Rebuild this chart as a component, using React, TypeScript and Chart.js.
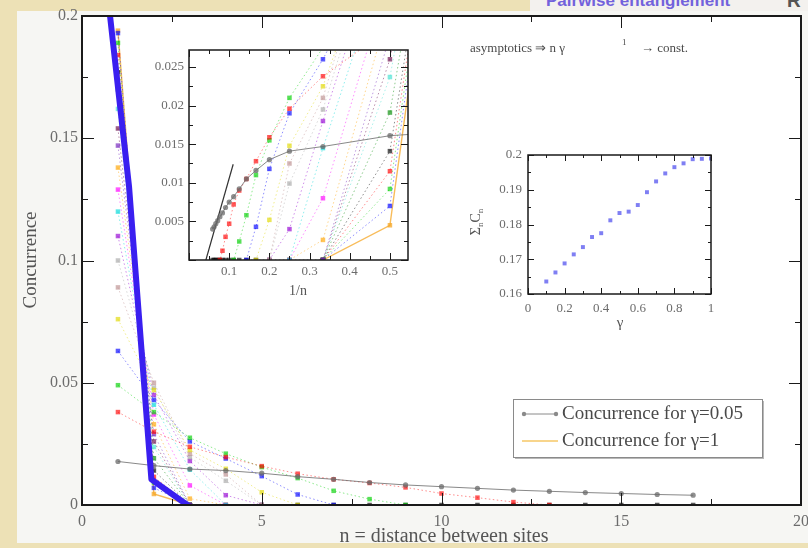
import React, { useEffect, useRef } from 'react';
import { Chart, registerables } from 'chart.js';

Chart.register(...registerables);

const SERIF = '"Liberation Serif", "Times New Roman", serif';

// ---------------- data ----------------
const distances = [1, 2, 3, 4, 5, 6, 7, 8, 9, 10, 11, 12, 13, 14, 15, 16, 17];
const gammaLabels = ['0.05', '0.1', '0.15', '0.2', '0.25', '0.3', '0.35', '0.4', '0.45', '0.5', '0.55', '0.6', '0.65', '0.7', '0.75', '0.8', '0.85', '0.9', '0.95', '1'];

// concurrence C(n) for each gamma, n = 1, 2, 3, ...
const c005 = [0.0178, 0.0161, 0.0147, 0.0141, 0.013, 0.0116, 0.0105, 0.0092, 0.0082, 0.0075, 0.0068, 0.0061, 0.0056, 0.0051, 0.0047, 0.0043, 0.004];
const c010 = [0.038, 0.03, 0.0238, 0.0196, 0.0159, 0.0128, 0.0105, 0.009, 0.0072, 0.0047, 0.003, 0.0012, 0];
const c015 = [0.049, 0.038, 0.0275, 0.021, 0.0155, 0.011, 0.0058, 0.0024, 0];
const c020 = [0.063, 0.043, 0.026, 0.019, 0.0118, 0.0043, 0];
const c025 = [0.076, 0.047, 0.0225, 0.0148, 0.0052, 0];
const c030 = [0.089, 0.05, 0.021, 0.0125, 0];
const c035 = [0.1, 0.048, 0.0195, 0.0099, 0];
const c040 = [0.11, 0.045, 0.018, 0.004, 0];
const c045 = [0.12, 0.041, 0.0145, 0];
const c050 = [0.129, 0.037, 0.008, 0];
const c055 = [0.138, 0.033, 0.0026, 0];
const c060 = [0.147, 0.029, 0];
const c065 = [0.154, 0.026, 0];
const c070 = [0.162, 0.0237, 0];
const c075 = [0.17, 0.0191, 0];
const c080 = [0.177, 0.0141, 0, 0, 0, 0, 0, 0, 0, 0, 0, 0, 0, 0, 0, 0, 0];
const c085 = [0.184, 0.0115, 0];
const c090 = [0.189, 0.0092, 0];
const c095 = [0.193, 0.007, 0];
const c100 = [0.194, 0.0045, 0];
const concurrenceByGamma = [c005, c010, c015, c020, c025, c030, c035, c040, c045, c050, c055, c060, c065, c070, c075, c080, c085, c090, c095, c100];

// thick highlighted guide line
const highlightN = [0.78, 1.31, 1.93, 2.93];
const highlightC = [0.2, 0.13, 0.0105, 0];

// asymptotic fit in the 1/n inset
const fitInvN = [0.042, 0.11];
const fitC = [0, 0.0124];

// sum of concurrences vs gamma
const sumGamma = [0.1, 0.15, 0.2, 0.25, 0.3, 0.35, 0.4, 0.45, 0.5, 0.55, 0.6, 0.65, 0.7, 0.75, 0.8, 0.85, 0.9, 0.95, 1];
const sumConcurrence = [0.1636, 0.1662, 0.1688, 0.1714, 0.1735, 0.1764, 0.1775, 0.1812, 0.1833, 0.1837, 0.1856, 0.1893, 0.1924, 0.1947, 0.1965, 0.1976, 0.1988, 0.1989, 0.199];

// ---------------- styles ----------------
const palette = ['#000000', '#ff0000', '#00d000', '#0000ff', '#e0d800', '#bc8f8f', '#a8a8a8', '#9400d3', '#00d8d8', '#ff00ff', '#ffa500', '#7221bc', '#670748', '#40e0d0', '#008b00'];

function rgba(hex: string, a: number) {
  const h = hex.replace('#', '');
  const r = parseInt(h.slice(0, 2), 16), g = parseInt(h.slice(2, 4), 16), b = parseInt(h.slice(4, 6), 16);
  return `rgba(${r},${g},${b},${a})`;
}

function styleFor(i: number) {
  if (i === 0) return { color: '#6a6a6a', dash: [] as number[], ps: 'circle', r: 2.6, lw: 1, la: 0.8, pa: 0.75 };
  if (i === concurrenceByGamma.length - 1) return { color: '#f5a623', dash: [] as number[], ps: 'rect', r: 3.2, lw: 1.4, la: 0.75, pa: 0.75 };
  return { color: palette[i % palette.length], dash: [1.5, 2.5], ps: 'rect', r: 3.2, lw: 1, la: 0.45, pa: 0.65 };
}

function buildSeries(xOf: (n: number) => number) {
  return concurrenceByGamma.map((vals, i) => {
    const s = styleFor(i);
    return {
      label: 'gamma=' + gammaLabels[i],
      data: vals.map((v, k) => ({ x: xOf(distances[k]), y: v })),
      borderColor: rgba(s.color, s.la),
      backgroundColor: rgba(s.color, s.pa),
      pointBackgroundColor: rgba(s.color, s.pa),
      pointBorderWidth: 0,
      pointStyle: s.ps,
      pointRadius: s.r,
      borderWidth: s.lw,
      borderDash: s.dash,
      tension: 0,
    };
  });
}

function fmt(v: number) {
  return String(Math.round(v * 1e6) / 1e6);
}

type FrameSpec = { xMajor: number; xMinor: number; yMajor: number; yMinor: number; majorLen: number; minorLen: number; frameWidth: number };

function drawFrame(chart: any, spec: FrameSpec) {
  const { ctx, chartArea: a } = chart;
  const xs = chart.scales.x, ys = chart.scales.y;
  ctx.save();
  ctx.strokeStyle = '#1a1a1a';
  ctx.lineWidth = 1;
  ctx.beginPath();
  const marks = (scale: any, step: number, len: number, horizontal: boolean) => {
    const i0 = Math.ceil(scale.min / step - 1e-6), i1 = Math.floor(scale.max / step + 1e-6);
    for (let i = i0; i <= i1; i++) {
      const p = Math.round(scale.getPixelForValue(i * step)) + 0.5;
      if (horizontal) {
        ctx.moveTo(p, a.bottom); ctx.lineTo(p, a.bottom - len);
        ctx.moveTo(p, a.top); ctx.lineTo(p, a.top + len);
      } else {
        ctx.moveTo(a.left, p); ctx.lineTo(a.left + len, p);
        ctx.moveTo(a.right, p); ctx.lineTo(a.right - len, p);
      }
    }
  };
  marks(xs, spec.xMinor, spec.minorLen, true);
  marks(xs, spec.xMajor, spec.majorLen, true);
  marks(ys, spec.yMinor, spec.minorLen, false);
  marks(ys, spec.yMajor, spec.majorLen, false);
  ctx.stroke();
  ctx.lineWidth = spec.frameWidth;
  ctx.strokeRect(a.left, a.top, a.width, a.height);
  ctx.restore();
}

const whiteArea = {
  id: 'whiteArea',
  beforeDraw(chart: any) {
    const { ctx, chartArea: a } = chart;
    ctx.save();
    ctx.fillStyle = '#ffffff';
    ctx.fillRect(a.left, a.top, a.width, a.height);
    ctx.restore();
  },
};

function axisCommon(min: number, max: number, step: number, size: number, pad: number, extra: any = {}) {
  return {
    type: 'linear',
    min, max,
    grid: { display: false, drawTicks: false },
    border: { display: false },
    ticks: { stepSize: step, font: { family: SERIF, size }, color: '#6c6c6c', padding: pad, maxRotation: 0, autoSkip: false, callback: (v: number) => fmt(v), ...extra },
  };
}

function mainConfig(): any {
  const datasets: any[] = buildSeries((n) => n);
  datasets.push({
    label: 'highlight',
    data: highlightN.map((n, i) => ({ x: n, y: highlightC[i] })),
    borderColor: '#3a1ff0',
    borderWidth: 6,
    pointRadius: 0,
    tension: 0,
    order: -1,
    borderCapStyle: 'round',
    borderJoinStyle: 'round',
  });
  const decor = {
    id: 'mainDecor',
    afterDatasetsDraw(chart: any) {
      drawFrame(chart, { xMajor: 5, xMinor: 2.5, yMajor: 0.05, yMinor: 0.025, majorLen: 12, minorLen: 6, frameWidth: 2 });
    },
    afterDraw(chart: any) {
      const ctx = chart.ctx;
      ctx.save();
      // axis titles
      ctx.fillStyle = '#555';
      ctx.textAlign = 'center';
      ctx.textBaseline = 'middle';
      ctx.font = `20px ${SERIF}`;
      ctx.fillText('n = distance between sites', 444, 537);
      ctx.save();
      ctx.translate(31, 260);
      ctx.rotate(-Math.PI / 2);
      ctx.font = `19px ${SERIF}`;
      ctx.fillText('Concurrence', 0, 0);
      ctx.restore();
      // annotation
      ctx.textAlign = 'left';
      ctx.textBaseline = 'alphabetic';
      ctx.fillStyle = '#4a4a4a';
      ctx.font = `13px ${SERIF}`;
      ctx.fillText('asymptotics \u21D2 n \u03B3', 470, 52);
      ctx.font = `9px ${SERIF}`;
      ctx.fillText('1', 622, 45);
      ctx.font = `13px ${SERIF}`;
      ctx.fillText('\u2192 const.', 641, 52);
      // legend
      const lx = 513, ly = 399, lw = 249, lh = 58;
      ctx.fillStyle = '#b8b8b8';
      ctx.fillRect(lx + 2, ly + 2, lw, lh);
      ctx.fillStyle = '#ffffff';
      ctx.fillRect(lx, ly, lw, lh);
      ctx.strokeStyle = '#8a8a8a';
      ctx.lineWidth = 1;
      ctx.strokeRect(lx + 0.5, ly + 0.5, lw, lh);
      ctx.strokeStyle = '#8a8a8a';
      ctx.beginPath();
      ctx.moveTo(523, 414); ctx.lineTo(557, 414);
      ctx.stroke();
      ctx.fillStyle = '#8a8a8a';
      [524, 556].forEach((x) => { ctx.beginPath(); ctx.arc(x, 414, 2.2, 0, Math.PI * 2); ctx.fill(); });
      ctx.strokeStyle = '#f6c766';
      ctx.lineWidth = 1.6;
      ctx.beginPath();
      ctx.moveTo(522, 441); ctx.lineTo(558, 441);
      ctx.stroke();
      ctx.fillStyle = '#4a4a4a';
      ctx.font = `19px ${SERIF}`;
      ctx.textBaseline = 'middle';
      ctx.fillText('Concurrence for \u03B3=0.05', 562, 414);
      ctx.fillText('Concurrence for \u03B3=1', 562, 441);
      ctx.restore();
    },
  };
  return {
    type: 'line',
    data: { datasets },
    options: {
      animation: false,
      responsive: false,
      maintainAspectRatio: false,
      events: [],
      layout: { padding: { left: 18, top: 16, right: 7, bottom: 0 } },
      plugins: { legend: { display: false }, tooltip: { enabled: false } },
      scales: {
        x: { ...axisCommon(0, 20, 5, 16, 7), afterFit: (s: any) => { s.height = 43; s.paddingLeft = 0; s.paddingRight = 0; } },
        y: { ...axisCommon(0, 0.2, 0.05, 16, 4), afterFit: (s: any) => { s.width = 64; s.paddingTop = 0; s.paddingBottom = 0; } },
      },
    },
    plugins: [whiteArea, decor],
  };
}

function inset1Config(): any {
  const datasets: any[] = buildSeries((n) => 1 / n);
  datasets.push({
    label: 'fit',
    data: fitInvN.map((x, i) => ({ x, y: fitC[i] })),
    borderColor: '#333',
    borderWidth: 1.2,
    pointRadius: 0,
    tension: 0,
  });
  const decor = {
    id: 'inset1Decor',
    afterDatasetsDraw(chart: any) {
      drawFrame(chart, { xMajor: 0.1, xMinor: 0.05, yMajor: 0.005, yMinor: 0.0025, majorLen: 7, minorLen: 4, frameWidth: 1.5 });
    },
    afterDraw(chart: any) {
      const ctx = chart.ctx;
      ctx.save();
      ctx.fillStyle = '#555';
      ctx.textAlign = 'center';
      ctx.textBaseline = 'middle';
      ctx.font = `14px ${SERIF}`;
      ctx.fillText('1/n', 168, 251);
      ctx.restore();
    },
  };
  return {
    type: 'line',
    data: { datasets },
    options: {
      animation: false,
      responsive: false,
      maintainAspectRatio: false,
      events: [],
      layout: { padding: { left: 0, top: 10, right: 12, bottom: 0 } },
      plugins: { legend: { display: false }, tooltip: { enabled: false } },
      scales: {
        x: { ...axisCommon(0, 0.545, 0.1, 13, 4, { includeBounds: false, callback: (v: number) => (Math.abs(v) < 1e-9 ? '' : fmt(v)) }), afterFit: (s: any) => { s.height = 45; s.paddingLeft = 0; s.paddingRight = 0; } },
        y: { ...axisCommon(0, 0.0272, 0.005, 13, 5, { includeBounds: false, callback: (v: number) => (Math.abs(v) < 1e-9 ? '' : fmt(v)) }), afterFit: (s: any) => { s.width = 59; s.paddingTop = 0; s.paddingBottom = 0; } },
      },
    },
    plugins: [whiteArea, decor],
  };
}

function inset2Config(): any {
  const decor = {
    id: 'inset2Decor',
    afterDatasetsDraw(chart: any) {
      drawFrame(chart, { xMajor: 0.2, xMinor: 0.1, yMajor: 0.01, yMinor: 0.005, majorLen: 6, minorLen: 3, frameWidth: 1.5 });
    },
    afterDraw(chart: any) {
      const ctx = chart.ctx;
      ctx.save();
      ctx.fillStyle = '#555';
      ctx.textAlign = 'center';
      ctx.textBaseline = 'middle';
      ctx.font = `15px ${SERIF}`;
      ctx.fillText('\u03B3', 180, 178);
      // rotated Σ_n C_n
      ctx.translate(35, 77);
      ctx.rotate(-Math.PI / 2);
      ctx.textAlign = 'left';
      ctx.textBaseline = 'alphabetic';
      const parts = [
        { t: '\u03A3', f: 14, dy: 0 },
        { t: 'n', f: 9, dy: 3 },
        { t: 'C', f: 14, dy: 0 },
        { t: 'n', f: 9, dy: 3 },
      ];
      let total = 0;
      parts.forEach((p) => { ctx.font = `${p.f}px ${SERIF}`; total += ctx.measureText(p.t).width; });
      let x = -total / 2;
      parts.forEach((p) => { ctx.font = `${p.f}px ${SERIF}`; ctx.fillText(p.t, x, 5 + p.dy); x += ctx.measureText(p.t).width; });
      ctx.restore();
    },
  };
  return {
    type: 'line',
    data: {
      datasets: [
        {
          label: 'sum',
          data: sumGamma.map((g, i) => ({ x: g, y: sumConcurrence[i] })),
          showLine: false,
          pointStyle: 'rect',
          pointRadius: 2.8,
          pointBorderWidth: 0,
          pointBackgroundColor: 'rgba(95,95,240,0.8)',
          backgroundColor: 'rgba(95,95,240,0.8)',
          borderColor: 'rgba(95,95,240,0.8)',
        },
      ],
    },
    options: {
      animation: false,
      responsive: false,
      maintainAspectRatio: false,
      events: [],
      layout: { padding: { left: 0, top: 10, right: 19, bottom: 0 } },
      plugins: { legend: { display: false }, tooltip: { enabled: false } },
      scales: {
        x: { ...axisCommon(0, 1, 0.2, 13, 7), afterFit: (s: any) => { s.height = 41; s.paddingLeft = 0; s.paddingRight = 0; } },
        y: { ...axisCommon(0.16, 0.2, 0.01, 13, 6), afterFit: (s: any) => { s.width = 88; s.paddingTop = 0; s.paddingBottom = 0; } },
      },
    },
    plugins: [whiteArea, decor],
  };
}

export default function App() {
  const mainRef = useRef<HTMLCanvasElement>(null);
  const inset1Ref = useRef<HTMLCanvasElement>(null);
  const inset2Ref = useRef<HTMLCanvasElement>(null);

  useEffect(() => {
    const charts = [
      new Chart(mainRef.current as HTMLCanvasElement, mainConfig()),
      new Chart(inset1Ref.current as HTMLCanvasElement, inset1Config()),
      new Chart(inset2Ref.current as HTMLCanvasElement, inset2Config()),
    ];
    return () => charts.forEach((c) => c.destroy());
  }, []);

  const abs = (l: number, t: number, w: number, h: number): React.CSSProperties => ({ position: 'absolute', left: l, top: t, width: w, height: h });

  return (
    <div style={{ position: 'fixed', left: 0, top: 0, width: 808, height: 548, background: '#ede1b6', overflow: 'hidden' }}>
      <div style={{ ...abs(17, 11, 791, 532), background: '#f6f6f3' }} />
      <div style={{ ...abs(530, 0, 278, 11), background: '#f3f1ee' }} />
      <div style={{ position: 'absolute', left: 546, top: -8, font: `bold 17px "Liberation Sans", Arial, sans-serif`, lineHeight: '17px', color: '#7262dc', whiteSpace: 'nowrap' }}>
        Pairwise entanglement
      </div>
      <div style={{ position: 'absolute', left: 787, top: -9, font: `bold 19px "Liberation Sans", Arial, sans-serif`, lineHeight: '19px', color: '#555', whiteSpace: 'nowrap' }}>
        R
      </div>
      <canvas ref={mainRef} width={808} height={548} style={abs(0, 0, 808, 548)} />
      <canvas ref={inset1Ref} width={290} height={265} style={abs(130, 40, 290, 265)} />
      <canvas ref={inset2Ref} width={290} height={190} style={abs(440, 145, 290, 190)} />
    </div>
  );
}
